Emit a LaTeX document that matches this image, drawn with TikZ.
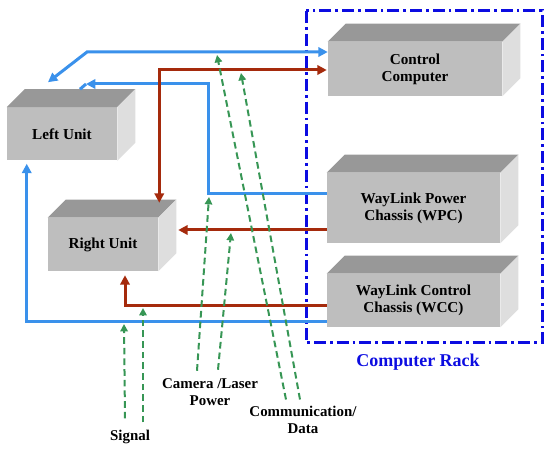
\documentclass[tikz,border=0pt]{standalone}
\usepackage{fontspec}
\setmainfont{Liberation Serif}
\usetikzlibrary{arrows.meta}

\definecolor{wireblue}{RGB}{58,145,235}
\definecolor{wirered}{RGB}{165,42,12}
\definecolor{siggreen}{RGB}{55,150,85}
\definecolor{rackblue}{RGB}{12,12,225}
\definecolor{frontgray}{RGB}{190,190,190}
\definecolor{topgray}{RGB}{152,152,152}
\definecolor{sidegray}{RGB}{222,222,222}

% top and side faces of a box drawn behind a node
\newcommand{\boxfaces}[1]{%
  \fill[topgray] (#1.north west) -- ++(18,-18) -- ([shift={(18,-18)}]#1.north east) -- (#1.north east) -- cycle;
  \fill[sidegray] (#1.north east) -- ++(18,-18) -- ([shift={(18,-18)}]#1.south east) -- (#1.south east) -- cycle;}

\begin{document}
\begin{tikzpicture}[x=0.75pt, y=-0.75pt,
  >={Triangle[length=7pt,width=7pt]},
  unit/.style={rectangle, fill=frontgray, inner sep=0pt, align=center,
    font=\fontsize{11.4}{12.75}\selectfont\bfseries},
  bluewire/.style={draw=wireblue, line width=2.25pt},
  redwire/.style={draw=wirered, line width=2.25pt},
  sigline/.style={draw=siggreen, line width=1.5pt, dash pattern=on 5pt off 3pt,
    -{Triangle[length=5.5pt,width=5.5pt]}},
  lbl/.style={align=center, font=\fontsize{11.2}{12.75}\selectfont\bfseries}]
  \useasboundingbox (0,0) rectangle (550,452);

  \node[unit, minimum width=82.5pt, minimum height=39.75pt] (lu) at (62,134) {Left Unit};
  \node[unit, minimum width=82.5pt, minimum height=39.75pt] (ru) at (103,244.5) {Right Unit};
  \node[unit, minimum width=130.5pt, minimum height=40.5pt] (cc) at (415,69) {Control\\Computer};
  \node[unit, minimum width=129.75pt, minimum height=52.5pt] (wpc) at (413.5,208) {WayLink Power\\Chassis (WPC)};
  \node[unit, minimum width=129.75pt, minimum height=39.75pt] (wcc) at (413.5,300.5) {WayLink Control\\Chassis (WCC)};
  \boxfaces{lu}
  \boxfaces{ru}
  \boxfaces{cc}
  \boxfaces{wpc}
  \boxfaces{wcc}

  \draw[rackblue, line width=2.25pt, dash pattern=on 9pt off 3pt on 2pt off 3pt]
    (306,11) rectangle (542,343);
  \node[text=rackblue, font=\fontsize{13.5}{15}\selectfont\bfseries] (rack) at (418,362) {Computer Rack};

  \coordinate (bk1) at (87,52);
  \coordinate (bk2) at (208,194);
  \coordinate (bk3) at (86,84);
  \draw[bluewire, <->] ([shift={(0,-17)}]cc.west) -- (bk1) -- ([shift={(-14,-25)}]lu.north);
  \draw[bluewire, ->] ([shift={(0,-14)}]wpc.west) -- (bk2) |- (bk3);
  \draw[bluewire] (bk3) -- ([shift={(18,-18)}]lu.north);
  \draw[bluewire, ->] ([shift={(0,21.5)}]wcc.west) -| ([shift={(20,3)}]lu.south west);

  \draw[redwire, <->] ([shift={(-1,1)}]cc.west) -| ([shift={(1,-15)}]ru.north east);
  \draw[redwire, ->] ([shift={(0,22)}]wpc.west) -- ([shift={(20,-14.5)}]ru.east);
  \draw[redwire, ->] ([shift={(0,5)}]wcc.west) -| ([shift={(22,4)}]ru.south);

  \node[lbl] (sig) at (130,437) {Signal};
  \node[lbl] (cam) at (210,392) {Camera /Laser\\Power};
  \node[lbl] (com) at (303,420) {Communication/\\Data};
  \coordinate (t1) at (124,324);
  \coordinate (t2) at (143,308);
  \coordinate (t3) at (209,197);
  \coordinate (t4) at (231,233);
  \coordinate (t5) at (217,55);
  \coordinate (t6) at (241,73);
  \draw[sigline] ([shift={(-5,-7)}]sig.north) -- (t1);
  \draw[sigline] ([shift={(13,-3)}]sig.north) -- (t2);
  \draw[sigline] ([shift={(-13,-3)}]cam.north) -- (t3);
  \draw[sigline] ([shift={(8,-4)}]cam.north) -- (t4);
  \draw[sigline] ([shift={(-17,-2)}]com.north) -- (t5);
  \draw[sigline] ([shift={(-3,-2)}]com.north) -- (t6);
\end{tikzpicture}
\end{document}
